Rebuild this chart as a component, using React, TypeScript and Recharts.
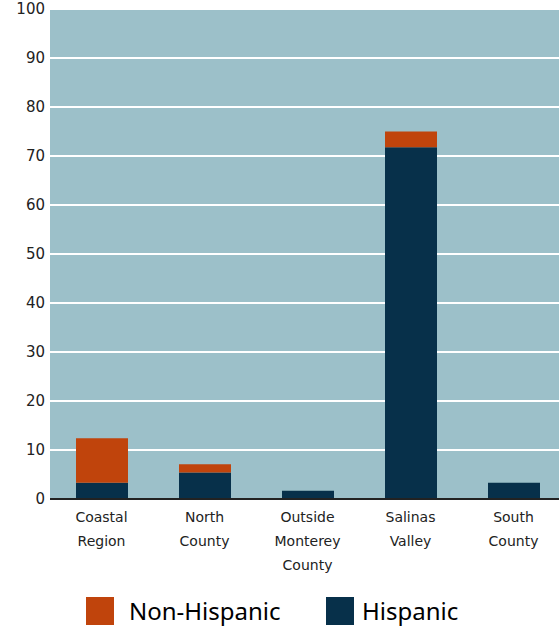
import { BarChart, Bar, XAxis, YAxis, CartesianGrid, Legend } from "recharts";

const regions = ["Coastal Region", "North County", "Outside Monterey County", "Salinas Valley", "South County"];
const regionLines = [["Coastal", "Region"], ["North", "County"], ["Outside", "Monterey", "County"], ["Salinas", "Valley"], ["South", "County"]];
const hispanic = [3.3, 5.4, 1.7, 71.8, 3.3];
const nonHispanic = [9.1, 1.7, 0, 3.2, 0];
const yTicks = [0, 10, 20, 30, 40, 50, 60, 70, 80, 90, 100];

const data = regions.map((region, i) => ({
  region,
  hispanic: hispanic[i],
  nonHispanic: nonHispanic[i],
}));

const NAVY = "#07304a";
const ORANGE = "#c0440c";
const PLOT_BG = "#9cc0c9";

const RegionTick = ({ x, y, payload }: any) => {
  const lines = regionLines[payload.index] ?? [payload.value];
  return (
    <text x={x} y={y} textAnchor="middle" fill="#222" fontSize={14} fontFamily="DejaVu Sans">
      {lines.map((line: string, i: number) => (
        <tspan key={i} x={x} dy={i === 0 ? 15 : 24}>
          {line}
        </tspan>
      ))}
    </text>
  );
};

const LegendBox = () => (
  <div style={{ position: "relative", width: 559, height: 40, fontFamily: "Noto Sans", fontSize: 24, color: "#000" }}>
    <div style={{ position: "absolute", left: 86, top: 11, width: 28, height: 28, background: ORANGE }} />
    <span style={{ position: "absolute", left: 129, top: 10, lineHeight: "30px" }}>Non-Hispanic</span>
    <div style={{ position: "absolute", left: 326, top: 11, width: 28, height: 28, background: NAVY }} />
    <span style={{ position: "absolute", left: 362, top: 10, lineHeight: "30px" }}>Hispanic</span>
  </div>
);

export default function App() {
  return (
    <div style={{ position: "absolute", left: 0, top: 0, width: 559, height: 626, overflow: "hidden", background: "#fff" }}>
      <BarChart width={566} height={626} data={data} margin={{ top: 9, right: 1, left: 0, bottom: 0 }} barSize={52}>
        <CartesianGrid vertical={false} stroke="#ffffff" strokeWidth={2} fill={PLOT_BG} />
        <XAxis
          dataKey="region"
          interval={0}
          height={87}
          tickLine={false}
          axisLine={{ stroke: "#222", strokeWidth: 2 }}
          tick={<RegionTick />}
        />
        <YAxis
          domain={[0, 100]}
          ticks={yTicks}
          width={50}
          axisLine={false}
          tickLine={false}
          tickSize={3}
          tickMargin={2}
          tick={{ fill: "#222", fontSize: 15, fontFamily: "DejaVu Sans" }}
        />
        <Legend verticalAlign="bottom" height={40} wrapperStyle={{ left: 0, bottom: 0, width: 559 }} content={<LegendBox />} />
        <Bar dataKey="hispanic" name="Hispanic" stackId="a" fill={NAVY} isAnimationActive={false} />
        <Bar dataKey="nonHispanic" name="Non-Hispanic" stackId="a" fill={ORANGE} isAnimationActive={false} />
      </BarChart>
    </div>
  );
}
